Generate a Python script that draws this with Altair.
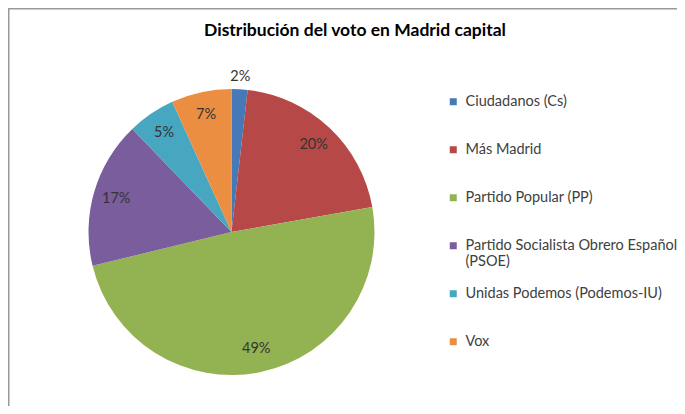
import altair as alt
import pandas as pd

parties = [
    "Ciudadanos (Cs)",
    "Más Madrid",
    "Partido Popular (PP)",
    "Partido Socialista Obrero Español (PSOE)",
    "Unidas Podemos (Podemos-IU)",
    "Vox",
]
shares = [1.8, 20.4, 49.0, 16.6, 5.4, 6.8]
colors = ["#4579B8", "#B64947", "#93B352", "#7A5D9D", "#47A6C0", "#EC8E42"]
title_text = "Distribución del voto en Madrid capital"

df = pd.DataFrame({"party": parties, "share": shares, "idx": list(range(len(parties)))})

W, H = 669, 398
CX, CY, R = 223.5, 224, 143

legend = alt.Legend(
    title=None, orient="none", legendX=438, legendY=86.5,
    symbolType="square", symbolSize=49, symbolStrokeWidth=0,
    labelFont="Lato", labelFontSize=14.5, labelColor="#404040",
    rowPadding=16, padding=0, labelOffset=5, labelLimit=400, gridAlign="all",
    labelExpr="indexof(datum.label, 'Español') > 0 ? ['Partido Socialista Obrero Español', '(PSOE)'] : datum.label",
)

arc = alt.Chart(df).mark_arc(outerRadius=R).encode(
    theta=alt.Theta("share:Q", stack=True),
    order=alt.Order("idx:Q"),
    color=alt.Color("party:N", scale=alt.Scale(domain=parties, range=colors), legend=legend),
    x=alt.value(CX), y=alt.value(CY),
)

labels = alt.Chart(df).transform_joinaggregate(
    total="sum(share)"
).transform_window(
    cum="sum(share)", sort=[alt.SortField("idx")], frame=[None, 0]
).transform_calculate(
    angle="2 * PI * (datum.cum - datum.share / 2) / datum.total",
    label="format(datum.share / 100, '.0%')",
    lr="datum.share < 3 ? 155 : 120",
).mark_text(font="Lato", fontSize=14.5, color="#333333").encode(
    theta=alt.Theta("angle:Q", scale=None, stack=None),
    radius=alt.Radius("lr:Q", scale=None),
    text=alt.Text("label:N"),
    x=alt.value(CX), y=alt.value(CY),
)

one = pd.DataFrame({"a": [0]})
title = alt.Chart(one).mark_text(
    text=title_text, font="Lato", fontWeight="bold", fontSize=17.5, color="#000000"
).encode(x=alt.value(347), y=alt.value(23))

top_border = alt.Chart(one).mark_rule(color="#999999", strokeWidth=1.5).encode(
    x=alt.value(0), x2=alt.value(W), y=alt.value(0.75)
)
left_border = alt.Chart(one).mark_rule(color="#999999", strokeWidth=1.5).encode(
    x=alt.value(0.75), y=alt.value(0), y2=alt.value(H)
)

chart = alt.layer(arc, labels, title, top_border, left_border).properties(
    width=W, height=H, autosize=alt.AutoSizeParams(type="none"), padding=0
).configure_view(strokeWidth=0)

chart.save("out.html", embed_options={"renderer": "svg", "actions": False})
